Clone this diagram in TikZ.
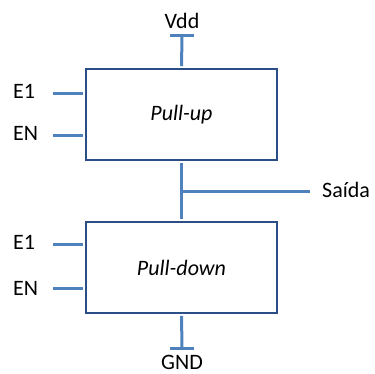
\documentclass[tikz,border=0pt]{standalone}
\usepackage{fontspec}
\setmainfont{Carlito}
\definecolor{boxblue}{HTML}{2B4E86}
\definecolor{wireblue}{HTML}{4F81BD}
\begin{document}
\begin{tikzpicture}[x=1pt,y=-1pt,
  blockbox/.style={draw=boxblue,line width=2.8pt,minimum width=191pt,minimum height=91pt,inner sep=0pt,font=\fontsize{22}{26}\selectfont\itshape},
  wire/.style={draw=wireblue,line width=3pt},
  pinwire/.style={wire,shorten <=1.4pt},
  lbl/.style={font=\fontsize{22}{26}\selectfont,inner sep=0pt}]
\useasboundingbox (0,0) rectangle (375,374);
% blocks
\node[blockbox] (pu) at (181.5,114.5) {Pull-up};
\node[blockbox] (pd) at (181.5,267.5) {Pull-down};
% labels
\node[lbl] (vdd) at (182,21) {Vdd};
\node[lbl] (gnd) at (182,362) {GND};
\node[lbl,anchor=west] (e1a) at (13,91) {E1};
\node[lbl,anchor=west] (ena) at (13,133) {EN};
\node[lbl,anchor=west] (e1b) at (13,242) {E1};
\node[lbl,anchor=west] (enb) at (13,288) {EN};
\node[lbl,anchor=west] (out) at (322,190) {Saída};
% wire end coordinates
\coordinate (vddbar) at (182,36);
\coordinate (gndbar) at (182,348);
\coordinate (junc) at (182,192);
\coordinate (outend) at (310,192);
\coordinate (pin1) at (53,94);
\coordinate (pin2) at (53,136);
\coordinate (pin3) at (53,245);
\coordinate (pin4) at (53,289);
% wires
\draw[pinwire] (pu.north) -- (vddbar);
\draw[wire] ([xshift=-12pt]vddbar) -- ([xshift=12pt]vddbar);
\draw[pinwire] (pd.south) -- (gndbar);
\draw[wire] ([xshift=-12pt]gndbar) -- ([xshift=12pt]gndbar);
\draw[wire,shorten <=1.4pt,shorten >=1.4pt] (pu.south) -- (pd.north);
\draw[wire] (junc) -- (outend);
\draw[pinwire] (pu.west |- pin1) -- (pin1);
\draw[pinwire] (pu.west |- pin2) -- (pin2);
\draw[pinwire] (pd.west |- pin3) -- (pin3);
\draw[pinwire] (pd.west |- pin4) -- (pin4);
\end{tikzpicture}
\end{document}
